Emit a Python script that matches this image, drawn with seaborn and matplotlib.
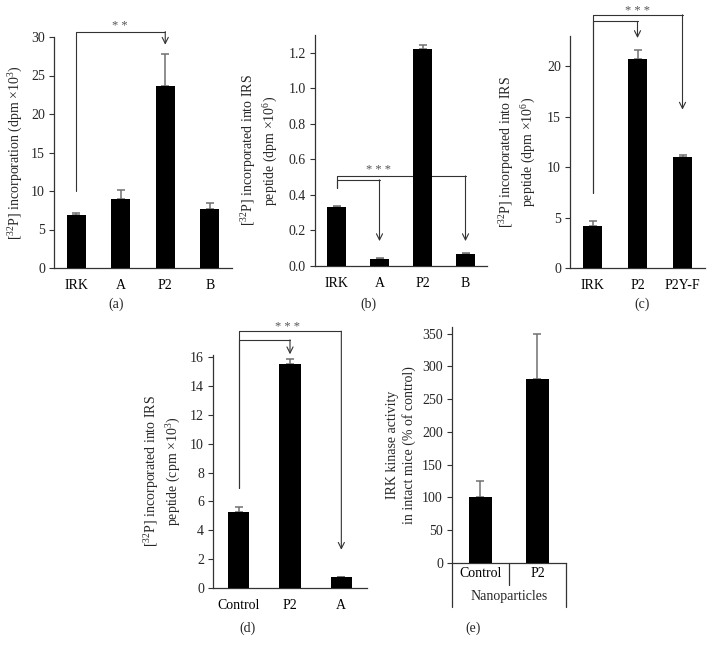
import numpy as np
import matplotlib
matplotlib.use("Agg")
import matplotlib.pyplot as plt
import seaborn as sns

# panel (a)
a_cats = ["IRK", "A", "P2", "B"]
a_vals = [6.9, 8.9, 23.6, 7.6]
a_err = [0.3, 1.2, 4.2, 0.9]

# panel (b)
b_cats = ["IRK", "A", "P2", "B"]
b_vals = [0.33, 0.04, 1.22, 0.07]
b_err = [0.01, 0.004, 0.025, 0.003]

# panel (c)
c_cats = ["IRK", "P2", "P2Y-F"]
c_vals = [4.2, 20.7, 11.0]
c_err = [0.45, 0.9, 0.2]

# panel (d)
d_cats = ["Control", "P2", "A"]
d_vals = [5.3, 15.5, 0.75]
d_err = [0.3, 0.35, 0.03]

# panel (e)
e_cats = ["Control", "P2"]
e_vals = [100, 281]
e_err = [25, 68]

sns.set_style("white")
plt.rcParams["font.family"] = ["Liberation Serif", "DejaVu Serif"]
plt.rcParams["mathtext.fontset"] = "custom"
plt.rcParams["mathtext.rm"] = "Liberation Serif"
plt.rcParams["mathtext.it"] = "Liberation Serif:italic"

W, H = 716, 652
fig = plt.figure(figsize=(W / 100, H / 100), dpi=100)

LINE = "#333333"
ERR = "#707070"
FS = 10


def make_ax(left, right, top, bottom):
    return fig.add_axes([left / W, (H - bottom) / H, (right - left) / W, (bottom - top) / H])


def bar_panel(ax, cats, vals, err, ylim, yticks, ylabel, lab_x, yfmt):
    sns.barplot(x=cats, y=vals, color="black", width=0.42, saturation=1,
                ax=ax, zorder=3, linewidth=0)
    n = len(cats)
    ax.errorbar(np.arange(n), vals, yerr=[np.zeros(n), err], fmt="none",
                ecolor=ERR, elinewidth=1.1, capsize=2.6, capthick=1.1, zorder=2)
    ax.set_xlim(-0.5, n - 0.5)
    ax.set_ylim(*ylim)
    ax.set_yticks(yticks)
    ax.set_yticklabels([yfmt.format(t) for t in yticks])
    ax.set_xticks(np.arange(n))
    ax.set_xticks(np.arange(n + 1) - 0.5, minor=True)
    ax.tick_params(axis="x", which="major", length=0, pad=8, labelsize=FS, colors="black")
    ax.tick_params(axis="x", which="minor", length=4, width=0.8, color=LINE, direction="out")
    ax.tick_params(axis="y", length=3.5, width=0.8, color=LINE, direction="out", pad=3,
                   labelsize=FS, left=True)
    for s in ["top", "right"]:
        ax.spines[s].set_visible(False)
    for s in ["left", "bottom"]:
        ax.spines[s].set_color(LINE)
        ax.spines[s].set_linewidth(0.9)
    ax.set_ylabel(ylabel, fontsize=FS, linespacing=1.3)
    # label anchor is the right edge of the rotated text
    ax.yaxis.set_label_coords(lab_x, 0.5)
    ax.set_xlabel("")


def bracket(ax, x0, y0, ytop, x1, yend, zorder=1):
    ax.plot([x0, x0, x1], [y0, ytop, ytop], color=LINE, lw=0.8, clip_on=False,
            zorder=zorder)
    ax.annotate("", xy=(x1, yend), xytext=(x1, ytop), annotation_clip=False,
                arrowprops=dict(arrowstyle="->", color=LINE, lw=0.8,
                                shrinkA=0, shrinkB=0, mutation_scale=11),
                zorder=zorder)


def stars(ax, x, y, s):
    ax.text(x, y, " ".join(s), ha="center", va="bottom", fontsize=FS - 1, color="#555555")


# (a)
ax = make_ax(54, 232, 37, 268)
bar_panel(ax, a_cats, a_vals, a_err, (0, 30), [0, 5, 10, 15, 20, 25, 30],
          "[$^{32}$P] incorporation (dpm \u00d710$^{3}$)", -0.165, "{:g}")
bracket(ax, 0, 10, 30.7, 2, 29.0)
stars(ax, 0.98, 30.6, "**")

# (b)
ax = make_ax(315, 487, 35, 266)
bar_panel(ax, b_cats, b_vals, b_err, (0, 1.3), [0, 0.2, 0.4, 0.6, 0.8, 1.0, 1.2],
          "[$^{32}$P] incorporated into IRS\npeptide (dpm \u00d710$^{6}$)", -0.205, "{:.1f}")
bracket(ax, 0, 0.44, 0.507, 3, 0.14)
bracket(ax, 0, 0.44, 0.485, 1, 0.14)
stars(ax, 0.97, 0.505, "***")

# (c)
ax = make_ax(570, 705, 36, 268)
bar_panel(ax, c_cats, c_vals, c_err, (0, 23), [0, 5, 10, 15, 20],
          "[$^{32}$P] incorporated into IRS\npeptide (dpm \u00d710$^{6}$)", -0.235, "{:g}")
bracket(ax, 0, 7.4, 25.1, 2, 15.7)
bracket(ax, 0, 7.4, 24.45, 1, 22.8)
stars(ax, 1.0, 24.9, "***")

# (d)
ax = make_ax(213, 367, 355, 588)
bar_panel(ax, d_cats, d_vals, d_err, (0, 16.15), [0, 2, 4, 6, 8, 10, 12, 14, 16],
          "[$^{32}$P] incorporated into IRS\npeptide (cpm \u00d710$^{3}$)", -0.195, "{:g}")
bracket(ax, 0, 6.9, 17.8, 2, 2.65)
bracket(ax, 0, 6.9, 17.2, 1, 16.2)
stars(ax, 0.95, 17.7, "***")

# (e)
ax = make_ax(452, 566, 327, 563)
bar_panel(ax, e_cats, e_vals, e_err, (0, 360), [0, 50, 100, 150, 200, 250, 300, 350],
          "IRK kinase activity\nin intact mice (% of control)", -0.315, "{:g}")
ax.tick_params(axis="x", which="minor", length=0)
ax.tick_params(axis="x", which="major", pad=3)
ax.plot([0.5, 0.5], [0, -0.093], transform=ax.transAxes, color=LINE, lw=0.9, clip_on=False)
ax.plot([0, 0], [0, -0.186], transform=ax.transAxes, color=LINE, lw=0.9, clip_on=False)
ax.plot([1, 1], [0, -0.186], transform=ax.transAxes, color=LINE, lw=0.9, clip_on=False)
ax.text(0.5, -0.14, "Nanoparticles", transform=ax.transAxes, ha="center", va="center",
        fontsize=FS)

# panel letters
for x, y, s in [(116, 304, "(a)"), (368, 304, "(b)"), (642, 304, "(c)"),
                (247, 628, "(d)"), (473, 628, "(e)")]:
    fig.text(x / W, 1 - y / H, s, ha="center", va="center", fontsize=FS)

fig.savefig("out.png", dpi=100)
